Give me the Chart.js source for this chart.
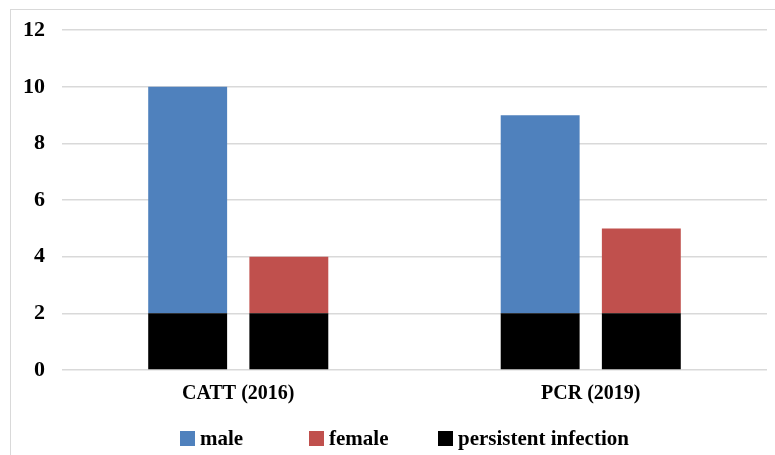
<!DOCTYPE html>
<html>
<head>
<meta charset="utf-8">
<script src="https://cdn.jsdelivr.net/npm/chart.js@4"></script>
<style>
    body { margin: 0; background: #fff; }
    #wrap { position: relative; width: 775px; height: 455px; overflow: hidden; }
    #frame {
        position: absolute; left: 10px; top: 9px; right: 0; bottom: 0;
        border-top: 1px solid #d9d9d9; border-left: 1px solid #d9d9d9;
    }
    #chart { position: absolute; left: 0; top: 0; }
    #legend {
        position: absolute; left: 180px; top: 426px; display: flex;
        font: bold 21px "Liberation Serif", "Times New Roman", serif; color: #000;
    }
    .item { display: flex; align-items: center; min-width: 129px; white-space: nowrap; }
    .box { width: 15px; height: 15px; margin-right: 5px; }
</style>
</head>
<body>
<div id="wrap">
    <div id="frame"></div>
    <canvas id="chart" width="775" height="455"></canvas>
    <div id="legend"></div>
</div>
<script>
const categories = ["CATT (2016)", "PCR (2019)"];
const persistentMale = [2, 2];
const persistentFemale = [2, 2];
const male = [8, 7];     // on top of the persistent part
const female = [2, 3];
const yTicks = [0, 2, 4, 6, 8, 10, 12];

const legendItems = [
    { label: "male", color: "#4F81BD" },
    { label: "female", color: "#C0504D" },
    { label: "persistent infection", color: "#000000" }
];

const serif = '"Liberation Serif", "Times New Roman", serif';

document.addEventListener("DOMContentLoaded", function() {
    const ctx = document.getElementById("chart").getContext("2d");
    new Chart(ctx, {
        type: "bar",
        data: {
            labels: categories,
            datasets: [
                { label: "persistent infection", data: persistentMale, backgroundColor: "#000000", stack: "m" },
                { label: "persistent infection", data: persistentFemale, backgroundColor: "#000000", stack: "f" },
                { label: "male", data: male, backgroundColor: "#4F81BD", stack: "m" },
                { label: "female", data: female, backgroundColor: "#C0504D", stack: "f" }
            ]
        },
        options: {
            responsive: false,
            animation: false,
            barPercentage: 0.78,
            categoryPercentage: 0.574,
            layout: { padding: { left: 10, right: 8, top: 29, bottom: 37 } },
            plugins: {
                legend: { display: false },
                tooltip: { enabled: false }
            },
            scales: {
                x: {
                    stacked: true,
                    grid: { display: false, drawTicks: false },
                    border: { display: false },
                    ticks: { color: "#000", padding: 12, font: { family: serif, size: 20, weight: "bold" } }
                },
                y: {
                    stacked: true,
                    min: yTicks[0],
                    max: yTicks[yTicks.length - 1],
                    afterFit: function(scale) { scale.width = 52; },
                    afterBuildTicks: function(scale) {
                        scale.ticks = yTicks.map(v => ({ value: v }));
                    },
                    grid: { color: "#d9d9d9", lineWidth: 1.5, drawTicks: false },
                    border: { display: false },
                    ticks: { color: "#000", padding: 17, font: { family: serif, size: 22, weight: "bold" } }
                }
            }
        }
    });

    const legend = document.getElementById("legend");
    legendItems.forEach(item => {
        const el = document.createElement("div");
        el.className = "item";
        const box = document.createElement("span");
        box.className = "box";
        box.style.background = item.color;
        const txt = document.createElement("span");
        txt.textContent = item.label;
        el.appendChild(box);
        el.appendChild(txt);
        legend.appendChild(el);
    });
});
</script>
</body>
</html>
